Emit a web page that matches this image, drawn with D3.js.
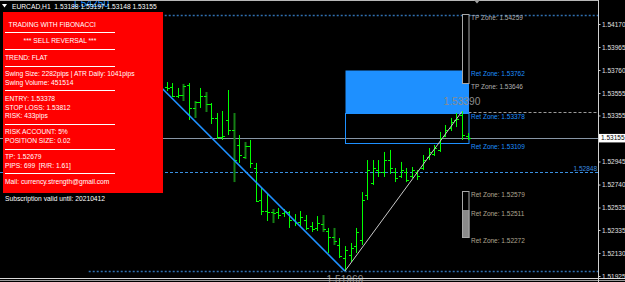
<!DOCTYPE html>
<html>
<head>
<meta charset="utf-8">
<script src="https://cdnjs.cloudflare.com/ajax/libs/d3/7.8.5/d3.min.js"></script>
<style>
  body { margin: 0; background: #000; }
  svg { display: block; font-family: "Liberation Sans", Arial, sans-serif; }
  text { white-space: pre; }
</style>
</head>
<body>
<svg id="chart" width="625" height="282"></svg>
<script>
// EURCAD H1 bars (prices)
var opens  = [1.53609,1.53609,1.53529,1.53538,1.53627,1.53422,1.53475,1.53529,1.53457,1.53333,
              1.53163,1.53315,1.53226,1.53092,1.52985,1.53083,1.52887,1.52602,1.52504,1.52495,
              1.52495,1.52486,1.52495,1.52424,1.52406,1.52424,1.52370,1.52353,1.52388,1.52326,
              1.52272,1.52201,1.52085,1.52112,1.52192,1.52246,1.52647,1.52754,1.52869,1.52852,
              1.52958,1.52852,1.52816,1.52852,1.52816,1.52852,1.52887,1.52985,1.53012,1.53048,
              1.53172,1.53244,1.53315,1.53359,1.53172];
var highs  = [1.53653,1.53644,1.53600,1.53636,1.53644,1.53484,1.53600,1.53564,1.53466,1.53377,
              1.53395,1.53582,1.53377,1.53181,1.53119,1.53137,1.52932,1.52709,1.52664,1.52522,
              1.52531,1.52522,1.52504,1.52477,1.52504,1.52468,1.52406,1.52459,1.52468,1.52353,
              1.52353,1.52263,1.52192,1.52219,1.52353,1.52673,1.52958,1.52958,1.52958,1.53030,
              1.53048,1.52887,1.52941,1.52887,1.52896,1.52869,1.53003,1.53065,1.53092,1.53208,
              1.53270,1.53333,1.53377,1.53395,1.53199];
var lows   = [1.53573,1.53520,1.53511,1.53484,1.53315,1.53333,1.53422,1.53386,1.53279,1.53146,
              1.53137,1.53181,1.52762,1.52932,1.52967,1.52887,1.52584,1.52468,1.52415,1.52397,
              1.52433,1.52451,1.52353,1.52370,1.52361,1.52335,1.52317,1.52326,1.52317,1.52130,
              1.52201,1.52085,1.51969,1.52050,1.52130,1.52201,1.52602,1.52736,1.52807,1.52807,
              1.52834,1.52762,1.52798,1.52762,1.52798,1.52780,1.52869,1.52958,1.52994,1.53030,
              1.53163,1.53217,1.53252,1.53137,1.53137];
var closes = [1.53600,1.53529,1.53538,1.53618,1.53422,1.53475,1.53529,1.53457,1.53333,1.53163,
              1.53172,1.53226,1.52958,1.53003,1.53083,1.52932,1.52593,1.52504,1.52495,1.52486,
              1.52468,1.52504,1.52424,1.52397,1.52451,1.52353,1.52344,1.52397,1.52344,1.52272,
              1.52237,1.52103,1.52157,1.52174,1.52317,1.52602,1.52869,1.52887,1.52852,1.52958,
              1.52887,1.52798,1.52869,1.52780,1.52869,1.52816,1.52958,1.53030,1.53065,1.53154,
              1.53226,1.53297,1.53324,1.53181,1.53155];
var darkBars = [3, 5, 7, 12, 14, 19, 28, 30];

// swing points (bar index, price)
var swingHigh = [-14, 1.54250];
var swingLow  = [32, 1.51969];
var swingNow  = [53, 1.53390];

var bid = 1.53155;
var retZones = [1.53762, 1.53378, 1.53109];
var tpZones = [1.54259, 1.53646];
var lowerZones = [1.52579, 1.52511, 1.52272];
var takeProfit = 1.52679;
var midLevel = 1.52848;

var axisTicks = [1.54170, 1.53965, 1.53760, 1.53555, 1.53355, 1.52945, 1.52740, 1.52535, 1.52335, 1.52130, 1.51925];
var headerText = "EURCAD,H1  1.53188 1.53197 1.53148 1.53155";
var panelRows = [
  "  TRADING WITH FIBONACCI", "-",
  "          *** SELL REVERSAL ***", "-",
  "TREND: FLAT", "-",
  "Swing Size: 2282pips | ATR Daily: 1041pips",
  "Swing Volume: 451514", "-",
  "ENTRY: 1.53378", "STOP LOSS: 1.53812", "RISK: 433pips", "-",
  "RISK ACCOUNT: 5%", "POSITION SIZE: 0.02", "-",
  "TP: 1.52679", "PIPS: 699  [R/R: 1.61]", "-",
  "Mail: currency.strength@gmail.com"
];
var footerText = "Subscription valid until: 20210412";

var svg = d3.select("#chart");
var W = 625, H = 282, plotRight = 598;

var x = d3.scaleLinear().domain([0, 54]).range([166.7, 467.5]);
var y = d3.scaleLinear().domain([1.51925, 1.54170]).range([276, 24]);
function px(i) { return Math.round(x(i)) + 0.5; }
function py(p) { return Math.round(y(p)) + 0.5; }

svg.append("rect").attr("width", W).attr("height", H).attr("fill", "#000");

// level lines
function hline(p, x1, color, dash, w) {
  svg.append("line")
    .attr("x1", x1).attr("x2", plotRight)
    .attr("y1", py(p)).attr("y2", py(p))
    .attr("stroke", color).attr("stroke-width", w || 1)
    .attr("stroke-dasharray", dash);
}
hline(swingHigh[1], x(swingHigh[0]), "#2f6fb0", "2,2", 1.5);
hline(swingLow[1], x(swingHigh[0]), "#2f6fb0", "2,2", 1.5);
hline(bid, 0, "#8896a6", null, 1);
hline(midLevel, 0, "#3a8fe0", "3,2", 1);
hline(swingNow[1], x(54) + 1, "#9a9a9a", "3,2", 1);

// zones
svg.append("rect")
  .attr("x", px(swingLow[0])).attr("y", py(retZones[0]))
  .attr("width", px(54) + 0.5 - px(swingLow[0])).attr("height", y(retZones[1]) - y(retZones[0]))
  .attr("fill", "#1e90ff");
svg.append("rect")
  .attr("x", px(swingLow[0])).attr("y", py(retZones[1]))
  .attr("width", px(54) + 0.5 - px(swingLow[0])).attr("height", Math.round(y(retZones[2]) - y(retZones[1])))
  .attr("fill", "none").attr("stroke", "#1e90ff");

// bars
var g = svg.append("g");
opens.forEach(function (o, i) {
  var cx = px(i);
  if (darkBars.indexOf(i) >= 0) {
    g.append("rect").attr("x", cx - 1).attr("y", y(highs[i]))
      .attr("width", 2).attr("height", y(lows[i]) - y(highs[i])).attr("fill", "#157f15");
  } else {
    g.append("line").attr("x1", cx).attr("x2", cx)
      .attr("y1", y(highs[i])).attr("y2", y(lows[i])).attr("stroke", "#00ff00");
  }
  g.append("line").attr("x1", cx - 2.5).attr("x2", cx).attr("y1", py(o)).attr("y2", py(o)).attr("stroke", "#00ff00");
  g.append("line").attr("x1", cx).attr("x2", cx + 2.5).attr("y1", py(closes[i])).attr("y2", py(closes[i])).attr("stroke", "#00ff00");
});

// tall TP box and lower zone box
var bx = px(53), bw = px(54) - px(53) + 0.5;
svg.append("rect").attr("x", bx).attr("y", py(tpZones[0]))
  .attr("width", bw).attr("height", Math.round(y(tpZones[1]) - y(tpZones[0])))
  .attr("fill", "#000").attr("stroke", "#a8a8a8");
svg.append("rect").attr("x", bx).attr("y", py(lowerZones[1]))
  .attr("width", bw).attr("height", Math.round(y(lowerZones[2]) - y(lowerZones[1])))
  .attr("fill", "#8a8a8a").attr("stroke", "#8a8a8a");
svg.append("rect").attr("x", bx).attr("y", py(takeProfit))
  .attr("width", bw).attr("height", Math.round(y(lowerZones[2]) - y(takeProfit)))
  .attr("fill", "none").attr("stroke", "#a8a8a8");

// swing legs
svg.append("line")
  .attr("x1", x(swingHigh[0])).attr("y1", y(swingHigh[1]))
  .attr("x2", x(swingLow[0])).attr("y2", y(swingLow[1]))
  .attr("stroke", "#1e90ff").attr("stroke-width", 1.6);
svg.append("line")
  .attr("x1", x(swingLow[0])).attr("y1", y(swingLow[1]))
  .attr("x2", x(swingNow[0])).attr("y2", y(swingNow[1]))
  .attr("stroke", "#c8c8c8").attr("stroke-width", 1);

// zone labels
function label(txt, p, color) {
  svg.append("text").attr("x", 471).attr("y", y(p) + 6)
    .attr("font-size", 6.5).attr("fill", color).text(txt);
}
label("TP Zone: " + tpZones[0].toFixed(5), tpZones[0], "#b0b0b0");
label("Ret Zone: " + retZones[0].toFixed(5), retZones[0], "#1e90ff");
label("TP Zone: " + tpZones[1].toFixed(5), tpZones[1], "#b0b0b0");
label("Ret Zone: " + retZones[1].toFixed(5), retZones[1], "#1e90ff");
label("Ret Zone: " + retZones[2].toFixed(5), retZones[2], "#1e90ff");
label("Ret Zone: " + lowerZones[0].toFixed(5), takeProfit, "#b0a590");
label("Ret Zone: " + lowerZones[1].toFixed(5), lowerZones[1], "#b0a590");
label("Ret Zone: " + lowerZones[2].toFixed(5), lowerZones[2], "#b0a590");

svg.append("text").attr("x", 597).attr("y", y(midLevel) - 1.5)
  .attr("text-anchor", "end").attr("font-size", 6.5).attr("fill", "#3a8fe0")
  .text(midLevel.toFixed(5));

// swing price labels
svg.append("text").attr("x", x(swingNow[0])).attr("y", y(swingNow[1]) - 7)
  .attr("text-anchor", "middle").attr("font-size", 10.2).attr("fill", "#8c8c8c")
  .text(swingNow[1].toFixed(5));
svg.append("text").attr("x", x(swingLow[0])).attr("y", y(swingLow[1]) + 12)
  .attr("text-anchor", "middle").attr("font-size", 10.2).attr("fill", "#8c8c8c")
  .text(swingLow[1].toFixed(5));
svg.append("text").attr("x", x(swingHigh[0]) + 2).attr("y", y(swingHigh[1]) - 8)
  .attr("text-anchor", "middle").attr("font-size", 10.2).attr("fill", "#1e90ff")
  .text(swingHigh[1].toFixed(5));

// info panel
svg.append("rect").attr("x", 3).attr("y", 12).attr("width", 160).attr("height", 181).attr("fill", "#ff0000");
panelRows.forEach(function (r, k) {
  var cy = 24 + k * 8.3;
  if (r === "-") {
    svg.append("line").attr("x1", 5).attr("x2", 115)
      .attr("y1", Math.round(cy) + 0.5).attr("y2", Math.round(cy) + 0.5)
      .attr("stroke", "#fff").attr("stroke-width", 1);
  } else {
    svg.append("text").attr("x", 5).attr("y", cy + 2.5)
      .attr("font-size", 6.7).attr("fill", "#fff").text(r);
  }
});
svg.append("text").attr("x", 5).attr("y", 24 + (panelRows.length + 1) * 8.3 + 2.5)
  .attr("font-size", 6.7).attr("fill", "#fff").text(footerText);

// header
svg.append("line").attr("x1", 0).attr("x2", plotRight).attr("y1", 0.5).attr("y2", 0.5).attr("stroke", "#b8b8b8");
svg.append("path").attr("d", "M2,4 L7,4 L4.5,7.5 Z").attr("fill", "#fff");
svg.append("text").attr("x", 12).attr("y", 8.5).attr("font-size", 6.7).attr("fill", "#fff").text(headerText);
svg.append("path").attr("d", "M474,0 L480,0 L477,3.5 Z").attr("fill", "#a0a0a0");

// bottom border
svg.append("line").attr("x1", 0).attr("x2", W).attr("y1", 278.5).attr("y2", 278.5).attr("stroke", "#d8d8d8");
svg.append("line").attr("x1", 0).attr("x2", W).attr("y1", 280.5).attr("y2", 280.5).attr("stroke", "#9a9a9a");

// price axis
var axis = d3.axisRight(y).tickValues(axisTicks).tickFormat(d3.format(".5f")).tickSize(2).tickPadding(1.5);
var ag = svg.append("g").attr("transform", "translate(" + (plotRight + 0.5) + ",0)").call(axis);
ag.select(".domain").remove();
ag.selectAll("line").attr("stroke", "#d0d0d0");
ag.selectAll("text").attr("fill", "#e0e0e0").attr("font-size", 6.5).attr("font-family", "Liberation Sans, Arial, sans-serif");
svg.append("line").attr("x1", plotRight + 0.5).attr("x2", plotRight + 0.5).attr("y1", 0).attr("y2", H).attr("stroke", "#d0d0d0");

svg.append("rect").attr("x", 599).attr("y", y(bid) - 4).attr("width", 26).attr("height", 8.5).attr("fill", "#fff");
svg.append("text").attr("x", 601).attr("y", y(bid) + 2.5).attr("font-size", 6.5).attr("fill", "#000").text(bid.toFixed(5));
</script>
</body>
</html>
